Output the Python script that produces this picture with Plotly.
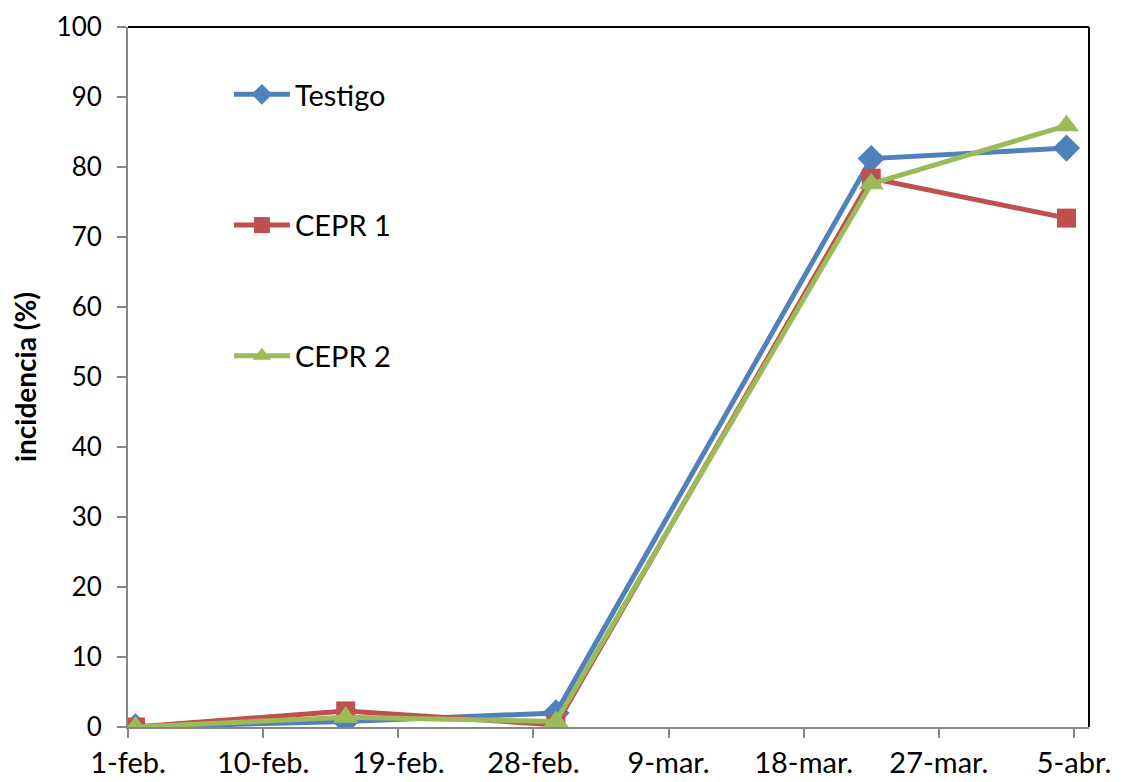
import pandas as pd
import plotly.graph_objects as go

#####################
##### DATA ##########
#####################

fechas = ["2014-02-01", "2014-02-15", "2014-03-01", "2014-03-22", "2014-04-04"]
testigo = [0.0, 0.8, 2.0, 81.2, 82.7]
cepr1 = [0.0, 2.3, 0.3, 78.4, 72.7]
cepr2 = [0.0, 1.4, 0.8, 77.6, 85.9]

tick_fechas = ["2014-02-01", "2014-02-10", "2014-02-19", "2014-02-28",
               "2014-03-09", "2014-03-18", "2014-03-27", "2014-04-05"]
tick_textos = ["1-feb.", "10-feb.", "19-feb.", "28-feb.",
               "9-mar.", "18-mar.", "27-mar.", "5-abr."]

# points sit in the middle of their day (excel date axis style)
x = pd.to_datetime(fechas) + pd.Timedelta(hours=12)

series = [
    ("Testigo", testigo, "#4F81BD", "diamond", 21),
    ("CEPR 1", cepr1, "#C0504D", "square", 19),
    ("CEPR 2", cepr2, "#9BBB59", "triangle-up", 22),
]

fig = go.Figure()
for i, (name, vals, color, symbol, size) in enumerate(series):
    fig.add_trace(go.Scatter(
        x=x, y=vals, name=name, mode="lines+markers",
        line=dict(color=color, width=5),
        marker=dict(symbol=symbol, size=size, color=color),
        legendgroup=str(i),
    ))

fig.update_layout(
    width=1128, height=782,
    plot_bgcolor="white", paper_bgcolor="white",
    margin=dict(l=120, r=47, t=19, b=63),
    font=dict(family="Lato, 'Open Sans', sans-serif", size=26, color="black"),
    legend=dict(x=0.105, y=0.94, xanchor="left", yanchor="top",
                bgcolor="rgba(0,0,0,0)", itemwidth=56,
                traceorder="grouped", tracegroupgap=90,
                font=dict(size=29)),
    shapes=[
        dict(type="line", xref="paper", yref="paper", x0=0, x1=1, y0=1, y1=1,
             line=dict(color="black", width=2)),
        dict(type="line", xref="paper", yref="paper", x0=1, x1=1, y0=0, y1=1,
             line=dict(color="black", width=2)),
    ],
)

fig.update_xaxes(
    type="date",
    range=["2014-02-01", "2014-04-06"],
    tickvals=pd.to_datetime(tick_fechas), ticktext=tick_textos,
    showline=True, linecolor="#868686", linewidth=2,
    ticks="outside", ticklen=9, tickcolor="#868686", tickwidth=2,
    showgrid=False, zeroline=False, automargin=False,
    tickfont=dict(size=29),
)
fig.update_yaxes(
    range=[0, 100], dtick=10,
    showline=True, linecolor="#868686", linewidth=2,
    ticks="outside", ticklen=9, tickcolor="#868686", tickwidth=2,
    showgrid=False, zeroline=False, automargin=False,
    ticklabeloverflow="allow", ticklabelstandoff=10,
    title=dict(text="<b>incidencia (%)</b>", font=dict(size=28)),
    tickfont=dict(size=26),
)

fig.write_html("out.html")
